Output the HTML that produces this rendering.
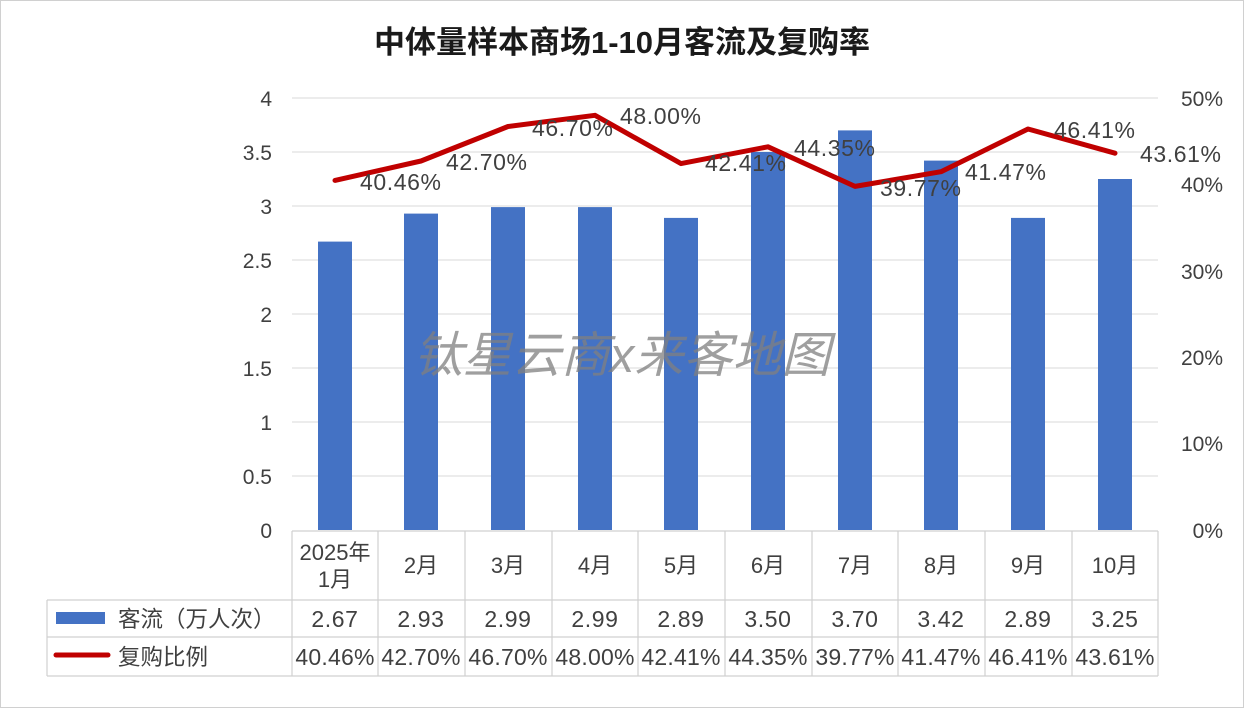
<!DOCTYPE html>
<html><head><meta charset="utf-8"><style>
html,body{margin:0;padding:0;background:#fff}
svg{display:block}
text{font-family:"Liberation Sans","Noto Sans CJK SC",sans-serif;fill:#404040}
.d{font-size:23px;letter-spacing:0.6px}
</style></head><body>
<svg width="1244" height="708" viewBox="0 0 1244 708">
<rect x="0.5" y="0.5" width="1243" height="707" fill="#fff" stroke="#d0d0d0"/>
<text x="622" y="53" text-anchor="middle" font-size="31" font-weight="bold" style="fill:#1a1a1a">中体量样本商场1-10月客流及复购率</text>
<g stroke="#d9d9d9" stroke-width="1">
<line x1="292" y1="98" x2="1158" y2="98"/><line x1="292" y1="152" x2="1158" y2="152"/>
<line x1="292" y1="206" x2="1158" y2="206"/><line x1="292" y1="260" x2="1158" y2="260"/>
<line x1="292" y1="314" x2="1158" y2="314"/><line x1="292" y1="368" x2="1158" y2="368"/>
<line x1="292" y1="422" x2="1158" y2="422"/><line x1="292" y1="476" x2="1158" y2="476"/>
</g>
<g font-size="21" text-anchor="end">
<text x="272" y="106">4</text><text x="272" y="160">3.5</text><text x="272" y="214">3</text>
<text x="272" y="268">2.5</text><text x="272" y="322">2</text><text x="272" y="376">1.5</text>
<text x="272" y="430">1</text><text x="272" y="484">0.5</text><text x="272" y="538">0</text>
<text x="1223" y="106">50%</text><text x="1223" y="192">40%</text><text x="1223" y="279">30%</text>
<text x="1223" y="365">20%</text><text x="1223" y="451">10%</text><text x="1223" y="538">0%</text>
</g>
<g fill="#4472c4">
<rect x="318" y="241.6" width="34" height="288.4"/>
<rect x="404" y="213.6" width="34" height="316.4"/>
<rect x="491" y="207.1" width="34" height="322.9"/>
<rect x="578" y="207.1" width="34" height="322.9"/>
<rect x="664" y="217.9" width="34" height="312.1"/>
<rect x="751" y="152" width="34" height="378"/>
<rect x="838" y="130.4" width="34" height="399.6"/>
<rect x="924" y="160.6" width="34" height="369.4"/>
<rect x="1011" y="217.9" width="34" height="312.1"/>
<rect x="1098" y="179" width="34" height="351"/>
</g>
<text x="622" y="372" text-anchor="middle" font-size="49" font-style="italic" style="fill:#808080;opacity:0.75">钛星云商x来客地图</text>
<polyline fill="none" stroke="#c00000" stroke-width="5" stroke-linejoin="round" stroke-linecap="round"
points="335,180.4 421,161 508,126.5 595,115.3 681,163.6 768,146.8 855,186.4 941,171.7 1028,129 1115,153.2"/>
<g class="d">
<text x="360" y="190">40.46%</text><text x="446" y="170">42.70%</text><text x="532" y="136">46.70%</text>
<text x="620" y="124">48.00%</text><text x="705" y="171">42.41%</text><text x="794" y="156">44.35%</text>
<text x="880" y="196">39.77%</text><text x="965" y="180">41.47%</text><text x="1054" y="138">46.41%</text>
<text x="1140" y="162">43.61%</text>
</g>
<g stroke="#d0d0d0" stroke-width="1.2" fill="none">
<line x1="292" y1="531" x2="292" y2="676"/>
<line x1="378" y1="531" x2="378" y2="676"/><line x1="465" y1="531" x2="465" y2="676"/>
<line x1="552" y1="531" x2="552" y2="676"/><line x1="638" y1="531" x2="638" y2="676"/>
<line x1="725" y1="531" x2="725" y2="676"/><line x1="812" y1="531" x2="812" y2="676"/>
<line x1="898" y1="531" x2="898" y2="676"/><line x1="985" y1="531" x2="985" y2="676"/>
<line x1="1072" y1="531" x2="1072" y2="676"/><line x1="1158" y1="531" x2="1158" y2="676"/>
<line x1="47" y1="600" x2="1158" y2="600"/><line x1="47" y1="637" x2="1158" y2="637"/>
<line x1="47" y1="676" x2="1158" y2="676"/><line x1="47" y1="600" x2="47" y2="676"/>
<line x1="292" y1="531" x2="1158" y2="531"/>
</g>
<g font-size="22" text-anchor="middle">
<text x="335" y="560">2025年</text><text x="335" y="587">1月</text>
<text x="421" y="573">2月</text><text x="508" y="573">3月</text><text x="595" y="573">4月</text>
<text x="681" y="573">5月</text><text x="768" y="573">6月</text><text x="855" y="573">7月</text>
<text x="941" y="573">8月</text><text x="1028" y="573">9月</text><text x="1115" y="573">10月</text>
</g>
<g class="d" text-anchor="middle">
<text x="335" y="627">2.67</text><text x="421" y="627">2.93</text><text x="508" y="627">2.99</text>
<text x="595" y="627">2.99</text><text x="681" y="627">2.89</text><text x="768" y="627">3.50</text>
<text x="855" y="627">3.70</text><text x="941" y="627">3.42</text><text x="1028" y="627">2.89</text>
<text x="1115" y="627">3.25</text>
</g>
<g class="d" text-anchor="middle" style="letter-spacing:0.2px">
<text x="335" y="665">40.46%</text><text x="421" y="665">42.70%</text><text x="508" y="665">46.70%</text>
<text x="595" y="665">48.00%</text><text x="681" y="665">42.41%</text><text x="768" y="665">44.35%</text>
<text x="855" y="665">39.77%</text><text x="941" y="665">41.47%</text><text x="1028" y="665">46.41%</text>
<text x="1115" y="665">43.61%</text>
</g>
<rect x="56" y="612" width="49" height="12" fill="#4472c4"/>
<line x1="56" y1="655" x2="108" y2="655" stroke="#c00000" stroke-width="5" stroke-linecap="round"/>
<text x="118" y="627" font-size="22.5">客流（万人次）</text>
<text x="118" y="665" font-size="22.5">复购比例</text>
</svg>
</body></html>
